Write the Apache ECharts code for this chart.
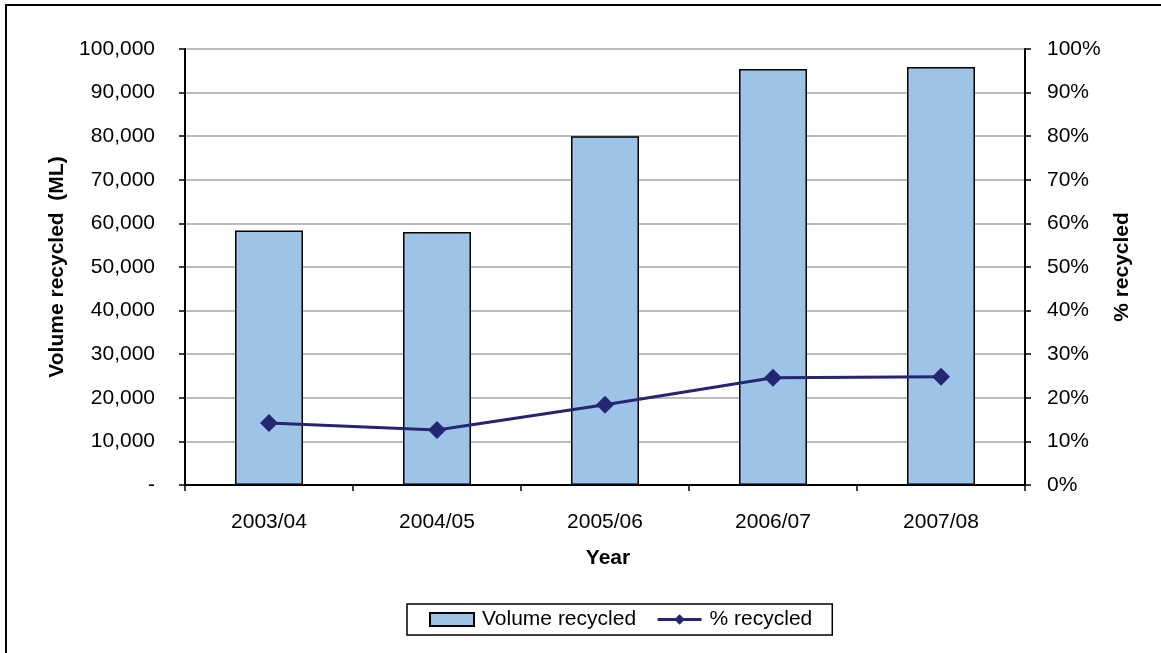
<!DOCTYPE html>
<html>
<head>
<meta charset="utf-8">
<script src="https://cdn.jsdelivr.net/npm/echarts@6/dist/echarts.min.js"></script>
<style>
  html, body { margin: 0; padding: 0; background: #fff; }
  #chart { width: 1161px; height: 653px; }
</style>
</head>
<body>
<div id="chart"></div>
<script>
// Recycled water volume and share of total, by financial year
const years = ['2003/04', '2004/05', '2005/06', '2006/07', '2007/08'];
const volumeRecycled = [58400, 58000, 80000, 95400, 95900];   // ML
const percentRecycled = [14.2, 12.6, 18.4, 24.6, 24.8];     // %

const FONT = '"Liberation Sans", Arial, sans-serif';
const chart = echarts.init(document.getElementById('chart'));

chart.setOption({
  backgroundColor: '#fff',
  animation: false,
  graphic: [{
    type: 'rect',
    shape: { x: 6, y: 5, width: 1200, height: 700 },
    style: { fill: 'none', stroke: '#000', lineWidth: 2 },
    silent: true
  }],
  grid: { left: 185, right: 136, top: 49, bottom: 168 },
  legend: {
    bottom: 18,
    left: 407,
    padding: [5, 20, 5, 22],
    borderColor: '#000',
    borderWidth: 1.5,
    borderRadius: 0,
    itemGap: 20,
    itemWidth: 44,
    itemHeight: 13,
    lineStyle: { width: 3 },
    textStyle: { fontFamily: FONT, fontSize: 21, color: '#000', padding: [0, 0, 0, 3] },
    data: [
      { name: 'Volume recycled', icon: 'rect' },
      { name: '% recycled' }
    ]
  },
  xAxis: {
    type: 'category',
    data: years,
    name: 'Year',
    nameLocation: 'middle',
    nameGap: 63,
    nameTextStyle: { fontFamily: FONT, fontSize: 21, fontWeight: 'bold', color: '#000', padding: [0, 0, 0, 6] },
    axisLine: { lineStyle: { color: '#000', width: 2 } },
    axisTick: { show: true, length: 6, lineStyle: { color: '#000', width: 1.5 } },
    axisLabel: { fontFamily: FONT, fontSize: 21, color: '#000', margin: 27 },
    splitLine: { show: false }
  },
  yAxis: [
    {
      type: 'value',
      min: 0, max: 100000, interval: 10000,
      name: 'Volume recycled  (ML)',
      nameLocation: 'middle',
      nameGap: 116,
      nameRotate: 90,
      nameTextStyle: { fontFamily: FONT, fontSize: 21, fontWeight: 'bold', color: '#000' },
      axisLine: { show: true, lineStyle: { color: '#000', width: 2 } },
      axisTick: { show: true, length: 6, lineStyle: { color: '#000', width: 1.5 } },
      axisLabel: {
        fontFamily: FONT, fontSize: 21, color: '#000', margin: 30,
        formatter: v => v === 0 ? '-' : v.toLocaleString('en-US')
      },
      splitLine: { show: true, lineStyle: { color: '#a6a6a6', width: 1.5 } }
    },
    {
      type: 'value',
      min: 0, max: 100, interval: 10,
      name: '% recycled',
      nameLocation: 'middle',
      nameGap: 84,
      nameRotate: 90,
      nameTextStyle: { fontFamily: FONT, fontSize: 21, fontWeight: 'bold', color: '#000' },
      axisLine: { show: true, lineStyle: { color: '#000', width: 2 } },
      axisTick: { show: true, length: 6, lineStyle: { color: '#000', width: 1.5 } },
      axisLabel: { fontFamily: FONT, fontSize: 21, color: '#000', margin: 22, formatter: '{value}%' },
      splitLine: { show: false }
    }
  ],
  series: [
    {
      name: 'Volume recycled',
      type: 'bar',
      yAxisIndex: 0,
      data: volumeRecycled,
      barWidth: 68,
      itemStyle: { color: '#9dc3e6', borderColor: '#000', borderWidth: 1.5 }
    },
    {
      name: '% recycled',
      type: 'line',
      yAxisIndex: 1,
      data: percentRecycled,
      symbol: 'diamond',
      symbolSize: 18,
      lineStyle: { color: '#252670', width: 3 },
      itemStyle: { color: '#252670' }
    }
  ]
});
</script>
</body>
</html>
